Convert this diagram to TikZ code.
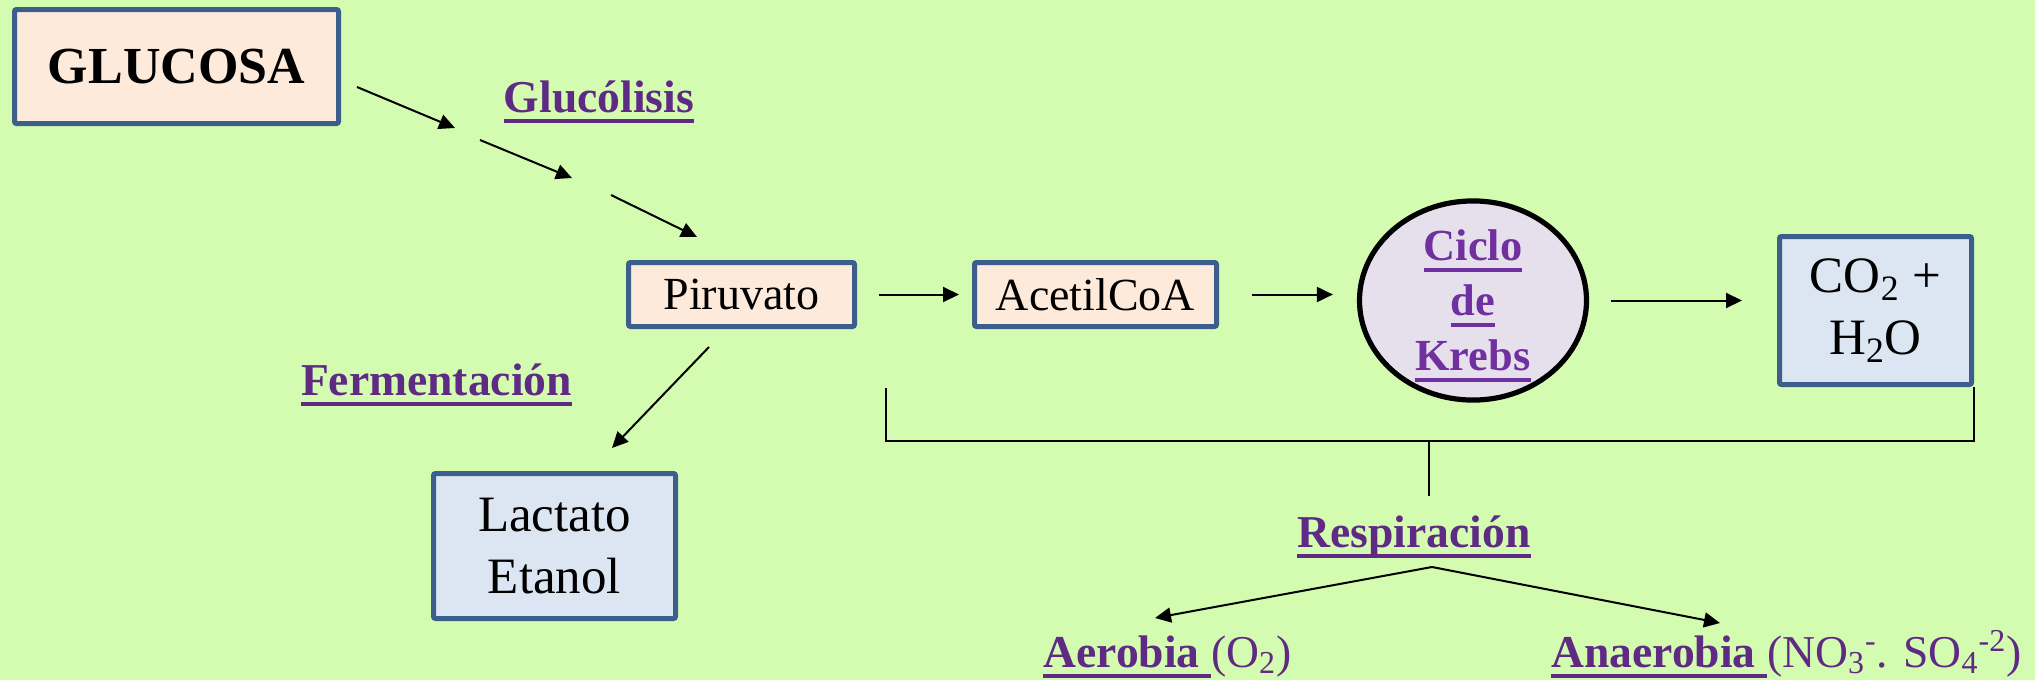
\documentclass[tikz,border=0pt]{standalone}
\usepackage{fontspec}
\setmainfont{Liberation Serif}
\usepackage{xcolor}
\usepackage{tikz}
\usetikzlibrary{arrows.meta, shapes.geometric}

\definecolor{fondo}{RGB}{212,252,176}
\definecolor{borde}{RGB}{59,94,140}
\definecolor{melocoton}{RGB}{253,234,218}
\definecolor{celeste}{RGB}{220,230,242}
\definecolor{lila}{RGB}{230,224,236}
\definecolor{morado}{RGB}{95,42,132}
\definecolor{moradoclaro}{RGB}{112,48,160}

% underlined word, rule a bit below the baseline
\newcommand{\subrayar}[1]{\leavevmode\setbox0\hbox{#1}\rlap{\vrule width\wd0 height-3.5pt depth5.5pt}\box0}

\begin{document}
\begin{tikzpicture}[x=0.5pt, y=-0.5pt, >={Triangle[length=8pt, width=7.5pt]},
        caja/.style={draw=borde, line width=2.5pt, rounded corners=1pt, inner sep=0pt, align=center},
        etiqueta/.style={inner sep=0pt, text=morado, font=\bfseries\fontsize{22.8}{27}\selectfont},
        flecha/.style={->, line width=1pt}]
        % Background
        \path[use as bounding box, fill=fondo] (0,0) rectangle (2035,680);

        % Glucosa
        \node (glucosa) [caja, fill=melocoton, minimum width=162pt, minimum height=57pt, font=\bfseries\fontsize{26}{31}\selectfont] at (176.5,66.5) {GLUCOSA};

        % Glucolisis
        \node (glucolisis) [etiqueta, anchor=base] at (599,112) {\subrayar{Glucólisis}};
        \coordinate (g1) at (357,87);
        \coordinate (g2) at (455,128);
        \coordinate (g3) at (480,140);
        \coordinate (g4) at (572,178);
        \coordinate (g5) at (611,195);
        \coordinate (g6) at (697,237);
        \draw[flecha] (g1) -- (g2);
        \draw[flecha] (g3) -- (g4);
        \draw[flecha] (g5) -- (g6);

        % Main row
        \node (piruvato) [caja, fill=melocoton, minimum width=113pt, minimum height=32pt, font=\fontsize{23}{27.6}\selectfont] at (741.5,294.5) {Piruvato};
        \node (acetil) [caja, fill=melocoton, minimum width=121pt, minimum height=32pt, font=\fontsize{23}{27.6}\selectfont] at (1095.5,294.5) {AcetilCoA};
        \node (krebs) [draw=black, line width=2.6pt, ellipse, fill=lila, minimum width=113.5pt, minimum height=97pt, inner sep=0pt, align=center, text=moradoclaro, text depth=0pt, font=\bfseries\fontsize{22.2}{27.5}\selectfont] at (1473,300.5) {\subrayar{Ciclo}\\\subrayar{de}\\\subrayar{Krebs}};
        \node (productos) [caja, fill=celeste, minimum width=96pt, minimum height=74pt, font=\fontsize{25.5}{31}\selectfont] at (1875.5,310.5) {CO\textsubscript{2} +\\H\textsubscript{2}O};

        \draw[flecha, shorten <=11pt, shorten >=6.5pt] (piruvato) -- (acetil);
        \draw[flecha, shorten <=16.5pt, shorten >=12pt] (acetil.east) -- (acetil.east -| krebs.west);
        \draw[flecha, shorten <=11pt, shorten >=17.5pt] (krebs.east) -- (krebs.east -| productos.west);

        % Fermentacion
        \node (fermentacion) [etiqueta, anchor=base] at (436.5,395) {\subrayar{Fermentación}};
        \node (lactato) [caja, fill=celeste, minimum width=121pt, minimum height=72.5pt, font=\fontsize{25.5}{31}\selectfont] at (554.5,546) {Lactato\\Etanol};
        \coordinate (p1) at (709,347);
        \coordinate (p2) at (612,448);
        \draw[flecha] (p1) -- (p2);

        % Respiracion
        \coordinate (r1) at (886,388);
        \coordinate (r2) at (1429,441);
        \coordinate (r3) at (1429,496);
        \draw[line width=1pt] (r1) |- (r2) -| (productos.south east);
        \draw[line width=1pt] (r2) -- (r3);
        \node (respiracion) [etiqueta, anchor=base] at (1414,547) {\subrayar{Respiración}};
        \coordinate (r4) at (1432,567);
        \coordinate (r5) at (1155,618);
        \coordinate (r6) at (1720,623);
        \draw[flecha] (r4) -- (r5);
        \draw[flecha] (r4) -- (r6);

        % Aerobia / Anaerobia
        \node (aerobia) [etiqueta, anchor=base west] at (1043,667) {\subrayar{Aerobia }{\mdseries(O\textsubscript{2})}};
        \node (anaerobia) [etiqueta, anchor=base west] at (1551,667) {\subrayar{Anaerobia }{\mdseries(NO\textsubscript{3}\textsuperscript{-}. SO\textsubscript{4}\textsuperscript{-2})}};
\end{tikzpicture}
\end{document}
